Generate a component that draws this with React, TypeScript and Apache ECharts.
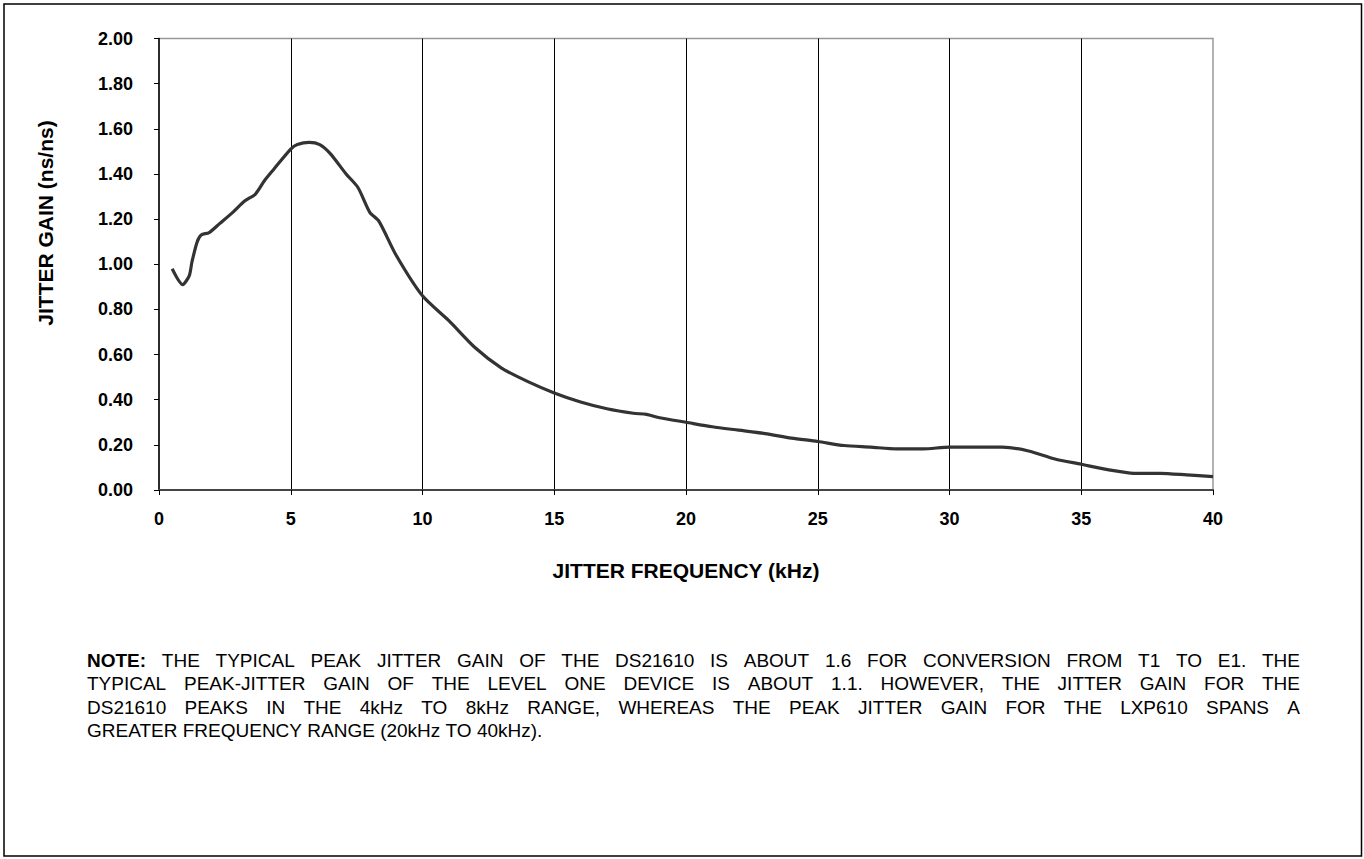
import React, { useEffect, useRef } from "react";
import * as echarts from "echarts";

const freqKHz = [0.5, 0.9, 1.15, 1.25, 1.45, 1.6, 1.9, 2.3, 2.8, 3.25, 3.65, 4.0, 4.35, 5.0, 5.25, 5.7, 6.1, 6.5, 7.1, 7.55, 8.0, 8.35, 9.0, 10, 11, 12, 13, 14, 15, 16, 17, 18, 18.5, 19, 20, 21, 22, 23, 24, 25, 26, 27, 28, 29, 30, 31, 32, 33, 34, 35, 36, 37, 38, 39, 40];
const jitterGain = [0.98, 0.91, 0.95, 1.01, 1.10, 1.13, 1.14, 1.18, 1.23, 1.28, 1.31, 1.37, 1.42, 1.51, 1.53, 1.54, 1.53, 1.49, 1.40, 1.34, 1.23, 1.19, 1.04, 0.86, 0.75, 0.63, 0.54, 0.48, 0.43, 0.39, 0.36, 0.34, 0.335, 0.32, 0.30, 0.28, 0.265, 0.25, 0.23, 0.215, 0.197, 0.19, 0.182, 0.182, 0.19, 0.19, 0.19, 0.173, 0.137, 0.114, 0.09, 0.074, 0.074, 0.067, 0.059];

const xTitle = "JITTER FREQUENCY (kHz)";
const yTitle = "JITTER GAIN (ns/ns)";
const noteLabel = "NOTE:";
const noteLines = [
  "THE TYPICAL PEAK JITTER GAIN OF THE DS21610 IS ABOUT 1.6 FOR CONVERSION FROM T1 TO E1. THE",
  "TYPICAL PEAK-JITTER GAIN OF THE LEVEL ONE DEVICE IS ABOUT 1.1. HOWEVER, THE JITTER GAIN FOR THE",
  "DS21610 PEAKS IN THE 4kHz TO 8kHz RANGE, WHEREAS THE PEAK JITTER GAIN FOR THE LXP610 SPANS A",
  "GREATER FREQUENCY RANGE (20kHz TO 40kHz).",
];

const FONT = "'Liberation Sans', Arial, sans-serif";
const NOTE_SIZE = 19;

function makeMeasurer() {
  const ctx = document.createElement("canvas").getContext("2d");
  return (text: string, bold: boolean) => {
    if (!ctx) return text.length * NOTE_SIZE * 0.6;
    ctx.font = `${bold ? "bold " : ""}${NOTE_SIZE}px ${FONT}`;
    return ctx.measureText(text).width;
  };
}

function buildNote() {
  const measure = makeMeasurer();
  const left = 87;
  const right = 1300;
  const top = 660;
  const lineH = 23.5;
  const els: any[] = [];
  noteLines.forEach((line, i) => {
    const words: { t: string; bold: boolean }[] = line.split(" ").map((t) => ({ t, bold: false }));
    if (i === 0) words.unshift({ t: noteLabel, bold: true });
    const widths = words.map((w) => measure(w.t, w.bold));
    const total = widths.reduce((a, b) => a + b, 0);
    const justify = i < noteLines.length - 1;
    const gap = justify ? (right - left - total) / (words.length - 1) : measure(" ", false);
    let x = left;
    words.forEach((w, k) => {
      els.push({
        type: "text",
        x,
        y: top + i * lineH,
        silent: true,
        style: {
          text: w.t,
          fill: "#000",
          font: `${w.bold ? "bold " : ""}${NOTE_SIZE}px ${FONT}`,
          textAlign: "left",
          textVerticalAlign: "middle",
        },
      });
      x += widths[k] + gap;
    });
  });
  return els;
}

export default function App() {
  const ref = useRef<HTMLDivElement>(null);
  useEffect(() => {
    document.body.style.margin = "0";
    if (!ref.current) return;
    const chart = echarts.init(ref.current, undefined, { renderer: "svg" });
    const data = freqKHz.map((f, i) => [f, jitterGain[i]]);
    chart.setOption({
      animation: false,
      backgroundColor: "#fff",
      grid: {
        left: 159,
        right: 151,
        top: 38.5,
        bottom: 369,
        show: true,
        borderColor: "#999",
        borderWidth: 1.5,
        containLabel: false,
      },
      xAxis: {
        type: "value",
        min: 0,
        max: 40,
        interval: 5,
        name: xTitle,
        nameLocation: "middle",
        nameGap: 70,
        nameTextStyle: { fontFamily: FONT, fontWeight: "bold", fontSize: 21, color: "#000" },
        axisLine: { show: true, onZero: false, lineStyle: { color: "#444", width: 2 } },
        axisTick: { show: true, length: 5, lineStyle: { color: "#000", width: 1 } },
        axisLabel: { margin: 20, fontFamily: FONT, fontWeight: "bold", fontSize: 18, color: "#000" },
        splitLine: { show: true, showMinLine: false, showMaxLine: false, lineStyle: { color: "#000", width: 1 } },
      },
      yAxis: {
        type: "value",
        min: 0,
        max: 2,
        interval: 0.2,
        axisLine: { show: true, onZero: false, lineStyle: { color: "#000", width: 1.5 } },
        axisTick: { show: true, length: 5, lineStyle: { color: "#000", width: 1 } },
        axisLabel: {
          margin: 26,
          fontFamily: FONT,
          fontWeight: "bold",
          fontSize: 18,
          color: "#000",
          formatter: (v: number) => v.toFixed(2),
        },
        splitLine: { show: false },
      },
      series: [
        {
          type: "line",
          data,
          smooth: 0.25,
          showSymbol: false,
          symbol: "none",
          lineStyle: { color: "#333", width: 3.2 },
        },
      ],
      graphic: [
        {
          type: "rect",
          silent: true,
          shape: { x: 4, y: 4, width: 1357.5, height: 852 },
          style: { fill: "none", stroke: "#000", lineWidth: 1.5 },
        },
        {
          type: "text",
          x: 45,
          y: 223,
          rotation: Math.PI / 2,
          silent: true,
          style: {
            text: yTitle,
            fill: "#000",
            font: `bold 21px ${FONT}`,
            textAlign: "center",
            textVerticalAlign: "middle",
          },
        },
        ...buildNote(),
      ],
    });
    return () => chart.dispose();
  }, []);
  return <div ref={ref} style={{ width: 1364, height: 859 }} />;
}
